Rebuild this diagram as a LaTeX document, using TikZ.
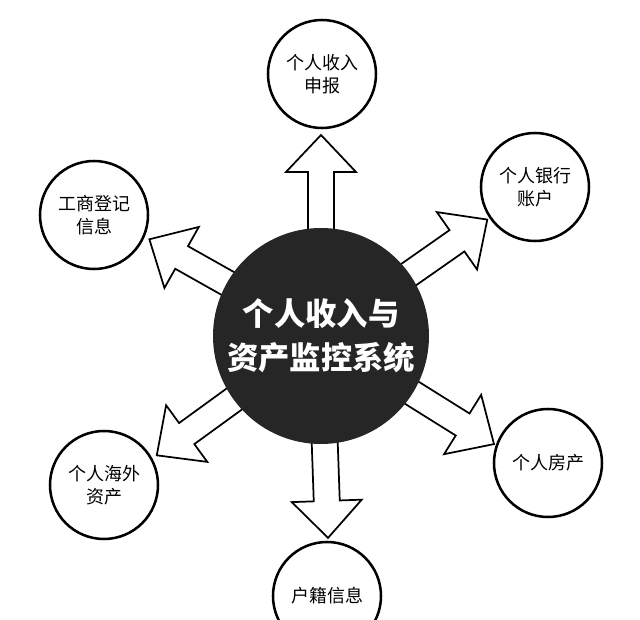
\documentclass[tikz,border=0pt]{standalone}
\usepackage{fontspec}
\setmainfont{Noto Sans CJK SC}
\begin{document}
\begin{tikzpicture}[x=0.75pt,y=0.75pt,
  outer/.style={circle,draw=black,line width=1.9pt,fill=white,minimum size=108*0.75pt,inner sep=0pt,align=center,font=\fontsize{13.5}{17}\selectfont},
  barrow/.style={draw=black,line width=1.3pt,fill=white,line join=miter}]
\useasboundingbox (0,0) rectangle (640,619);
\clip (0,0) rectangle (640,619);
\newcommand\blockarr[2]{%
  \begin{scope}[shift={(321,283)},rotate=#1]
    \draw[barrow] (95,-13)--(#2-37,-13)--(#2-37,-35)--(#2,0)--(#2-37,35)--(#2-37,13)--(95,13)--cycle;
  \end{scope}}
\blockarr{90}{201}
\blockarr{35}{203}
\blockarr{-32}{204}
\blockarr{-88}{202}
\blockarr{216}{203}
\blockarr{150.6}{197}
\node[circle,fill=black!85,minimum size=216*0.75pt,inner sep=0pt,align=center,text=white,font=\bfseries\fontsize{23.5}{33}\selectfont] (c) at (321,283) {个人收入与\\资产监控系统};
\node[outer] (a) at (322,545) {个人收入\\申报};
\node[outer] (b) at (535,432) {个人银行\\账户};
\node[outer] (d) at (548,156) {个人房产};
\node[outer] (e) at (327,23) {户籍信息};
\node[outer] (f) at (104,134) {个人海外\\资产};
\node[outer] (g) at (94,404) {工商登记\\信息};
\end{tikzpicture}
\end{document}
